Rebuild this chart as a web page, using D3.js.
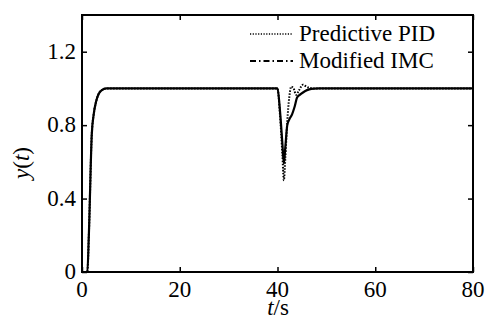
<!DOCTYPE html>
<html><head><meta charset="utf-8">
<script src="https://cdn.jsdelivr.net/npm/d3@7"></script>
<style>
body{margin:0;background:#fff}
svg{display:block}
svg text, svg tspan{font-family:"Liberation Serif","Times New Roman" !important;}
</style>
</head><body><svg id="c" width="489" height="320"></svg>
<script>
const xTicks = [0, 20, 40, 60, 80];
const yTicks = [0, 0.4, 0.8, 1.2];
const yTickLabels = ["0", "0.4", "0.8", "1.2"];
const seriesNames = ["Predictive PID", "Modified IMC"];
const imcT = [0, 1.1, 1.4, 2.0, 2.4, 2.9, 3.4, 4.0, 5, 40, 40.5, 41, 41.3, 41.6, 42, 42.4, 43, 43.5, 44, 44.8, 45.6, 46.5, 47.5, 48.5, 80];
const imcY = [0, 0, 0.2, 0.75, 0.86, 0.93, 0.97, 0.99, 1.0, 1.0, 0.88, 0.7, 0.59, 0.68, 0.8, 0.83, 0.86, 0.9, 0.95, 0.97, 0.985, 0.995, 0.999, 1.0, 1.0];
const pidT = [0, 1.1, 1.4, 2.0, 2.4, 2.9, 3.4, 4.0, 5, 40, 40.5, 41, 41.3, 41.6, 42, 42.4, 42.8, 43.3, 43.8, 44.4, 45.2, 45.8, 46.5, 47.5, 80];
const pidY = [0, 0, 0.2, 0.75, 0.86, 0.93, 0.97, 0.99, 1.0, 1.0, 0.86, 0.64, 0.5, 0.62, 0.82, 0.95, 1.01, 1.0, 0.965, 0.99, 1.02, 1.012, 1.003, 1.0, 1.0];

const svg = d3.select("#c");
const L = 82, R = 473, T = 15, B = 272;
const x = d3.scaleLinear().domain([0, 80]).range([L, R]);
const y = d3.scaleLinear().domain([0, 1.4]).range([B, T]);
const font = "\"Liberation Serif\"";

// frame
svg.append("rect").attr("x", L).attr("y", T).attr("width", R - L).attr("height", B - T)
  .attr("fill", "none").attr("stroke", "#000").attr("stroke-width", 2);

// axes: inward tick marks on all four sides
const gx = svg.append("g").attr("transform", `translate(0,${B})`)
  .call(d3.axisBottom(x).tickValues(xTicks).tickSize(-5).tickFormat(""));
const gxt = svg.append("g").attr("transform", `translate(0,${T})`)
  .call(d3.axisTop(x).tickValues(xTicks).tickSize(-5).tickFormat(""));
const gy = svg.append("g").attr("transform", `translate(${L},0)`)
  .call(d3.axisLeft(y).tickValues(yTicks).tickSize(-5).tickFormat(""));
const gyr = svg.append("g").attr("transform", `translate(${R},0)`)
  .call(d3.axisRight(y).tickValues(yTicks).tickSize(-5).tickFormat(""));
[gx, gxt, gy, gyr].forEach(g => {
  g.attr("font-family", null).attr("font-size", null);
  g.select(".domain").remove();
  g.selectAll(".tick line").attr("stroke", "#000").attr("stroke-width", 1.5);
  g.selectAll("text").remove();
});

// tick labels placed from the scales
svg.selectAll("text.xt").data(xTicks).join("text").attr("class", "xt")
  .attr("x", d => x(d)).attr("y", B + 25).attr("text-anchor", "middle")
  .attr("font-family", "Liberation Serif").style("font-family", font)
  .style("font-size", "23px").attr("fill", "#000")
  .text(d => d3.format("d")(d));
svg.selectAll("text.yt").data(yTicks).join("text").attr("class", "yt")
  .attr("x", L - 6).attr("y", d => y(d) + 7).attr("text-anchor", "end")
  .attr("font-family", "Liberation Serif").style("font-family", font)
  .style("font-size", "23px").attr("fill", "#000")
  .text((d, i) => yTickLabels[i]);

// lines
const line = d3.line().x(d => x(d[0])).y(d => y(d[1])).curve(d3.curveMonotoneX);
const imc = imcT.map((t, i) => [t, imcY[i]]);
const pid = pidT.map((t, i) => [t, pidY[i]]);
svg.append("path").datum(imc).attr("d", line).attr("fill", "none")
  .attr("stroke", "#000").attr("stroke-width", 2.2);
svg.append("path").datum(pid).attr("d", line).attr("fill", "none")
  .attr("stroke", "#000").attr("stroke-width", 2).attr("stroke-dasharray", "1.5,1.5");

// legend
const legY = [34, 61];
const dashes = ["1.2,1.5", "6,3,1.5,3"];
seriesNames.forEach((n, i) => {
  svg.append("line").attr("x1", 250).attr("x2", 293).attr("y1", legY[i]).attr("y2", legY[i])
    .attr("stroke", "#000").attr("stroke-width", i === 0 ? 1.3 : 2).attr("stroke-dasharray", dashes[i]);
  svg.append("text").attr("x", 299).attr("y", legY[i] + 7).text(n)
    .attr("font-family", "Liberation Serif").style("font-family", font)
    .style("font-size", "23px").attr("fill", "#000");
});

// axis labels
const xl = svg.append("text").attr("x", 278).attr("y", 315).attr("text-anchor", "middle")
  .attr("font-family", "Liberation Serif").style("font-family", font)
  .style("font-size", "23px").attr("fill", "#000");
xl.append("tspan").style("font-style", "italic").text("t");
xl.append("tspan").text("/s");
const yl = svg.append("text").attr("transform", "translate(29,163) rotate(-90)").attr("text-anchor", "middle")
  .attr("font-family", "Liberation Serif").style("font-family", font)
  .style("font-size", "23px").attr("fill", "#000");
yl.append("tspan").style("font-style", "italic").text("y");
yl.append("tspan").text("(");
yl.append("tspan").style("font-style", "italic").text("t");
yl.append("tspan").text(")");
</script></body></html>
